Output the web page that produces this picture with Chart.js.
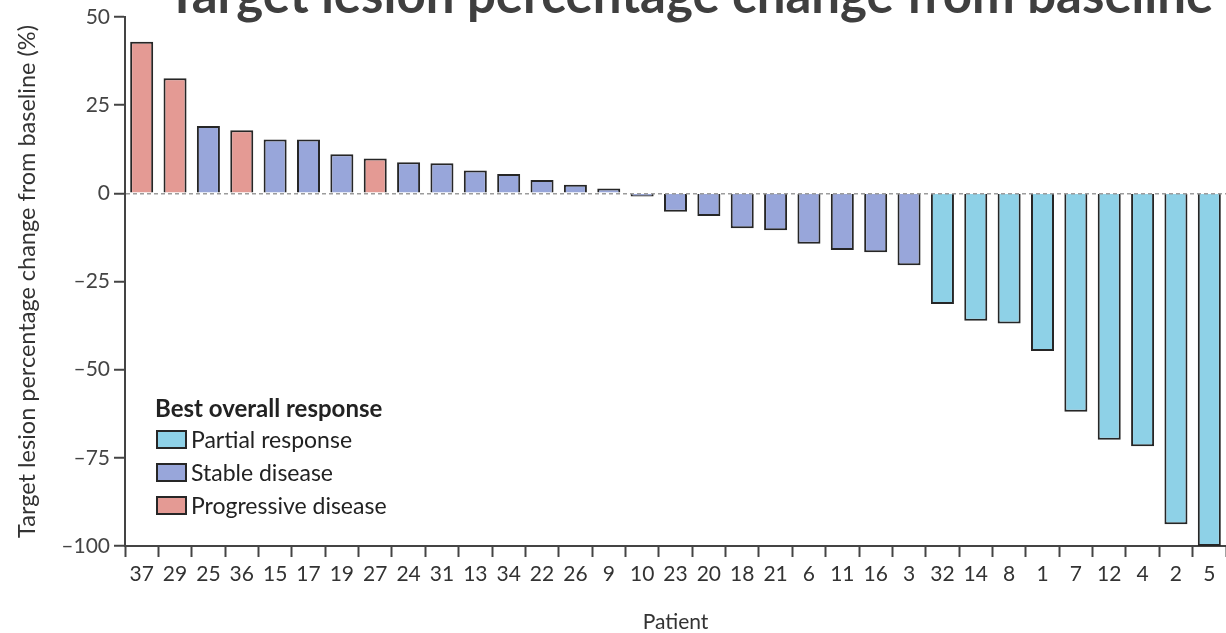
<!DOCTYPE html>
<html>
<head>
<meta charset="utf-8">
<script src="https://cdn.jsdelivr.net/npm/chart.js@4.4.1/dist/chart.umd.min.js"></script>
<style>
  html, body { margin: 0; padding: 0; background: #ffffff; overflow: hidden; }
  canvas { display: block; }
</style>
</head>
<body>
<canvas id="waterfall" width="1226" height="633"></canvas>
<script>
// Patients ordered from largest increase to largest decrease
const patients = ['37','29','25','36','15','17','19','27','24','31','13','34','22','26','9','10','23',
                  '20','18','21','6','11','16','3','32','14','8','1','7','12','4','2','5'];

// Best percentage change in target lesion size from baseline (%)
const changeFromBaseline = [43.0, 32.6, 19.1, 17.9, 15.3, 15.3, 11.1, 9.9, 8.8, 8.5, 6.5, 5.5, 3.8, 2.4, 1.4,
                            -0.9, -5.2, -6.4, -9.9, -10.5, -14.3, -16.1, -16.7, -20.4,
                            -31.4, -36.1, -36.9, -44.7, -61.9, -69.9, -71.7, -93.8, -100];

// Best overall response per patient: PR partial, SD stable, PD progressive
const bestResponse = ['PD','PD','SD','PD','SD','SD','SD','PD','SD','SD','SD','SD','SD','SD','SD',
                      'SD','SD','SD','SD','SD','SD','SD','SD','SD',
                      'PR','PR','PR','PR','PR','PR','PR','PR','PR'];

const responseCodes  = ['PR', 'SD', 'PD'];
const responseNames  = ['Partial response', 'Stable disease', 'Progressive disease'];
const responseColors = ['#8ED1E7', '#98A6DA', '#E49A94'];

const yTickValues = [50, 25, 0, -25, -50, -75, -100];

const chartTitle = 'Target lesion percentage change from baseline';
const keyTitle = 'Best overall response';
const yAxisTitle = 'Target lesion percentage change from baseline (%)';
const xAxisTitle = 'Patient';

const FONT = 'Lato, "Open Sans", sans-serif';
const INK = '#333333';
const AXIS = '#444444';
const OUTLINE = '#262626';

// One dataset per response category, overlaid on the same category slots
const datasets = responseCodes.map((code, k) => ({
  label: responseNames[k],
  data: changeFromBaseline.map((v, i) => (bestResponse[i] === code ? v : null)),
  backgroundColor: responseColors[k],
  borderColor: OUTLINE,
  borderWidth: 2,
  borderSkipped: 'start',
  barPercentage: 0.69,
  categoryPercentage: 1,
  grouped: false
}));

// Heading (partly above the canvas top) and the response key
const headerAndKey = {
  id: 'headerAndKey',
  afterDraw(chart) {
    const ctx = chart.ctx;
    ctx.save();

    ctx.fillStyle = '#3f3f3f';
    ctx.font = 'bold 51px ' + FONT;
    ctx.textAlign = 'center';
    ctx.textBaseline = 'alphabetic';
    ctx.fillText(chartTitle, 690, 13);

    const x0 = 156, y0 = 430, step = 33, sw = 31, sh = 19;
    ctx.textAlign = 'left';
    ctx.fillStyle = '#222222';
    ctx.font = 'bold 24px ' + FONT;
    ctx.fillText(keyTitle, x0 - 1, 417);

    ctx.font = '23px ' + FONT;
    chart.data.datasets.forEach((ds, i) => {
      const y = y0 + i * step;
      ctx.fillStyle = ds.backgroundColor;
      ctx.fillRect(x0, y, sw, sh);
      ctx.lineWidth = 2;
      ctx.strokeStyle = OUTLINE;
      ctx.strokeRect(x0 + 1, y + 1, sw - 2, sh - 2);
      ctx.fillStyle = '#222222';
      ctx.fillText(ds.label, x0 + sw + 4, y + 18);
    });

    ctx.restore();
  }
};

function draw() {
  new Chart(document.getElementById('waterfall'), {
    type: 'bar',
    data: { labels: patients, datasets: datasets },
    plugins: [headerAndKey],
    options: {
      responsive: false,
      animation: false,
      devicePixelRatio: 1,
      layout: { padding: { top: 17, right: 0, bottom: 0, left: 0 } },
      plugins: {
        legend: { display: false },
        title: { display: false },
        tooltip: { enabled: false }
      },
      scales: {
        x: {
          type: 'category',
          offset: true,
          grid: {
            offset: true,
            drawOnChartArea: false,
            drawTicks: true,
            tickLength: 11,
            tickColor: AXIS,
            tickWidth: 2
          },
          border: { display: true, color: AXIS, width: 2 },
          ticks: {
            color: INK,
            font: { family: FONT, size: 21 },
            padding: 5,
            maxRotation: 0,
            autoSkip: false
          },
          title: {
            display: true,
            text: xAxisTitle,
            color: INK,
            font: { family: FONT, size: 21, lineHeight: 1 },
            padding: { top: 26, bottom: 0 }
          },
          afterFit(scale) { scale.height = 87; }
        },
        y: {
          min: -100,
          max: 50,
          afterBuildTicks(scale) {
            scale.ticks = yTickValues.map(v => ({ value: v }));
          },
          grid: {
            drawOnChartArea: true,
            color: c => (c.tick && c.tick.value === 0 ? '#9c9c9c' : 'rgba(0,0,0,0)'),
            lineWidth: 1.5,
            tickColor: AXIS,
            tickWidth: 2,
            tickLength: 11,
            z: 1
          },
          border: { display: true, color: AXIS, width: 2, dash: [4, 3], z: 2 },
          ticks: {
            color: '#444444',
            font: { family: FONT, size: 21 },
            padding: 4,
            callback: v => (v < 0 ? '\u2013' + Math.abs(v) : String(v))
          },
          title: {
            display: true,
            text: yAxisTitle,
            color: INK,
            font: { family: FONT, size: 23.5 },
            padding: { top: 13, bottom: 0 }
          },
          afterFit(scale) { scale.width = 125; }
        }
      }
    }
  });
}

if (document.fonts && document.fonts.load) {
  Promise.all([
    document.fonts.load('20px Lato'),
    document.fonts.load('bold 20px Lato')
  ]).then(draw, draw);
} else {
  draw();
}
</script>
</body>
</html>
